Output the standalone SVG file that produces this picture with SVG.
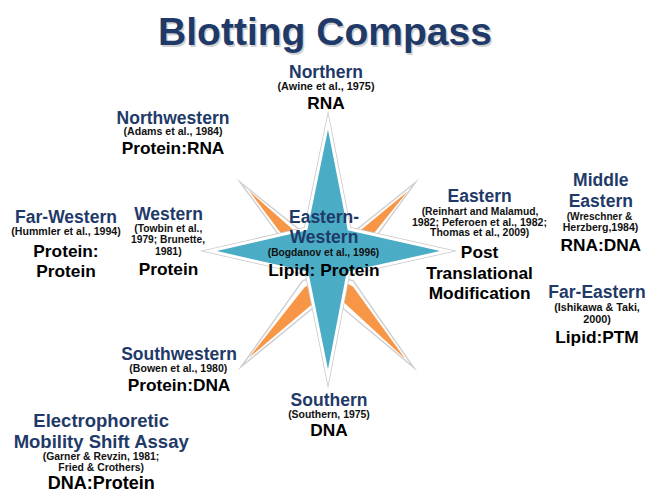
<svg xmlns="http://www.w3.org/2000/svg" width="645" height="491" viewBox="0 0 645 491">
<defs>
<style>
text{font-family:"Liberation Sans",Arial,sans-serif;font-weight:bold;text-anchor:middle}
.t{font-size:39.5px;fill:#1f3a68}
.ts{font-size:39.5px;fill:#9a9a9a;opacity:.45}
.nm{font-size:17.5px;fill:#1f3a68}
.nm2{font-size:18.5px;fill:#1f3a68}
.lb{font-size:17.3px;fill:#000}
.ct{font-size:10px;fill:#111}
.kout{fill:#fff;stroke:#cfcfcf;stroke-width:1.4;stroke-linejoin:miter;stroke-miterlimit:30}
.kor{fill:#f79646}
.bsh{fill:none;stroke:#c9c9c9;stroke-width:4.5;stroke-linejoin:miter;stroke-miterlimit:30}
.blu{fill:#4bacc6;stroke:#fff;stroke-width:3;stroke-linejoin:miter;stroke-miterlimit:30}
</style>
<g id="kite">
<path class="kout" d="M127 0 L22 -14 L0 0 L22 14 Z"/>
<path class="kor" d="M115 0.5 L26 -10 L0 0 L26 8 Z"/>
</g>
</defs>
<rect width="645" height="491" fill="#fff"/>

<g id="title">
<text class="ts" x="326.5" y="46.5" textLength="334" lengthAdjust="spacingAndGlyphs">Blotting Compass</text>
<text class="t" x="325" y="45" textLength="334" lengthAdjust="spacingAndGlyphs">Blotting Compass</text>
</g>

<g id="compass">
<use href="#kite" transform="translate(328,274) rotate(-133.75)"/>
<use href="#kite" transform="translate(328,274) rotate(-46.3)"/>
<use href="#kite" transform="translate(328,274) rotate(133.1)"/>
<use href="#kite" transform="translate(328,274) rotate(47.5)"/>
<path class="bsh" d="M328 122 L349 229 L447 251 L348 273 L328 377 L307 273 L210 251 L306 229 Z"/>
<path class="blu" d="M328 122 L349 229 L447 251 L348 273 L328 377 L307 273 L210 251 L306 229 Z"/>
</g>

<g id="northern">
<text class="nm" x="326" y="77.5">Northern</text>
<text class="ct" x="326" y="89.5" textLength="97" lengthAdjust="spacingAndGlyphs">(Awine et al., 1975)</text>
<text class="lb" x="326" y="108.5">RNA</text>
</g>

<g id="northwestern">
<text class="nm" x="173" y="123.5">Northwestern</text>
<text class="ct" x="173" y="135" textLength="99" lengthAdjust="spacingAndGlyphs">(Adams et al., 1984)</text>
<text class="lb" x="173" y="154">Protein:RNA</text>
</g>

<g id="far-western">
<text class="nm" x="66" y="223">Far-Western</text>
<text class="ct" x="66" y="235" textLength="109.5" lengthAdjust="spacingAndGlyphs">(Hummler et al., 1994)</text>
<text class="lb" x="66" y="256.5">Protein:</text>
<text class="lb" x="66" y="277">Protein</text>
</g>

<g id="western">
<text class="nm" x="168.5" y="220">Western</text>
<text class="ct" x="168.3" y="231.5" textLength="68" lengthAdjust="spacingAndGlyphs">(Towbin et al.,</text>
<text class="ct" x="168" y="243" textLength="74" lengthAdjust="spacingAndGlyphs">1979; Brunette,</text>
<text class="ct" x="168.3" y="254.5" textLength="26.7" lengthAdjust="spacingAndGlyphs">1981)</text>
<text class="lb" x="168.5" y="275">Protein</text>
</g>

<g id="eastern-western">
<text class="nm" x="324" y="222.5">Eastern-</text>
<text class="nm" x="324" y="242.5">Western</text>
<text class="ct" x="323.5" y="256" textLength="111.5" lengthAdjust="spacingAndGlyphs">(Bogdanov et al., 1996)</text>
<text class="lb" x="324" y="276">Lipid: Protein</text>
</g>

<g id="eastern">
<text class="nm" x="479.6" y="202">Eastern</text>
<text class="ct" x="480" y="214.5" textLength="116.7" lengthAdjust="spacingAndGlyphs">(Reinhart and Malamud,</text>
<text class="ct" x="479.5" y="225.5" textLength="135" lengthAdjust="spacingAndGlyphs">1982; Peferoen et al., 1982;</text>
<text class="ct" x="479.7" y="236" textLength="99.3" lengthAdjust="spacingAndGlyphs">Thomas et al., 2009)</text>
<text class="lb" x="479.6" y="257.5">Post</text>
<text class="lb" x="479.6" y="278.5">Translational</text>
<text class="lb" x="479.6" y="299">Modification</text>
</g>

<g id="middle-eastern">
<text class="nm" x="600.8" y="186">Middle</text>
<text class="nm" x="600.8" y="206.5">Eastern</text>
<text class="ct" x="599.5" y="219.5" textLength="65.6" lengthAdjust="spacingAndGlyphs">(Wreschner &amp;</text>
<text class="ct" x="600.5" y="230.5" textLength="75.6" lengthAdjust="spacingAndGlyphs">Herzberg,1984)</text>
<text class="lb" x="600.8" y="250.5">RNA:DNA</text>
</g>

<g id="far-eastern">
<text class="nm" x="597" y="298">Far-Eastern</text>
<text class="ct" x="597" y="311" textLength="85.7" lengthAdjust="spacingAndGlyphs">(Ishikawa &amp; Taki,</text>
<text class="ct" x="597" y="322.5" textLength="27.7" lengthAdjust="spacingAndGlyphs">2000)</text>
<text class="lb" x="597" y="342.5">Lipid:PTM</text>
</g>

<g id="southwestern">
<text class="nm" x="179" y="360">Southwestern</text>
<text class="ct" x="178.3" y="371.5" textLength="98" lengthAdjust="spacingAndGlyphs">(Bowen et al., 1980)</text>
<text class="lb" x="179" y="391">Protein:DNA</text>
</g>

<g id="southern">
<text class="nm" x="329" y="405.5">Southern</text>
<text class="ct" x="329" y="417.5" textLength="81.7" lengthAdjust="spacingAndGlyphs">(Southern, 1975)</text>
<text class="lb" x="329" y="435.5">DNA</text>
</g>

<g id="emsa">
<text class="nm2" x="101.2" y="426.5">Electrophoretic</text>
<text class="nm2" x="101.2" y="447.5">Mobility Shift Assay</text>
<text class="ct" x="101" y="459.5" textLength="116.6" lengthAdjust="spacingAndGlyphs">(Garner &amp; Revzin, 1981;</text>
<text class="ct" x="101.2" y="470.5" textLength="85.7" lengthAdjust="spacingAndGlyphs">Fried &amp; Crothers)</text>
<text class="lb" x="101.2" y="488.5" style="font-size:18px">DNA:Protein</text>
</g>
</svg>
